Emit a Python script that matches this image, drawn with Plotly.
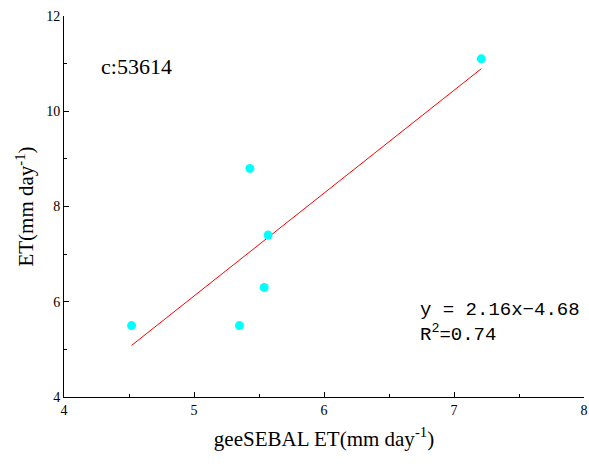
import plotly.graph_objects as go

gee_et = [4.52, 5.35, 5.43, 5.54, 5.57, 7.21]
obs_et = [5.5, 5.5, 8.8, 6.3, 7.4, 11.1]
slope = 2.16
intercept = -4.68
r2 = 0.74
station = "c:53614"

x_fit = [min(gee_et), max(gee_et)]
y_fit = [slope * v + intercept for v in x_fit]

fig = go.Figure()
fig.add_trace(go.Scatter(x=x_fit, y=y_fit, mode="lines",
                         line=dict(color="red", width=1), showlegend=False))
fig.add_trace(go.Scatter(x=gee_et, y=obs_et, mode="markers",
                         marker=dict(color="#00FFFF", size=9), showlegend=False))

font = "Liberation Serif, Times New Roman, serif"
fig.update_layout(
    width=589, height=468,
    margin=dict(l=64, r=5, t=16, b=71),
    paper_bgcolor="white", plot_bgcolor="white",
    font=dict(family=font, color="black"),
    xaxis=dict(range=[4, 8], dtick=1, tick0=4, showgrid=False, zeroline=False,
               showline=True, linecolor="black", linewidth=1, automargin=False,
               ticks="inside", ticklen=5, tickcolor="black",
               minor=dict(ticks="inside", dtick=0.5, ticklen=3, tickcolor="black"),
               tickfont=dict(size=14),
               title=dict(text="geeSEBAL ET(mm day<sup>-1</sup>)", font=dict(size=21), standoff=14)),
    yaxis=dict(range=[4, 12], dtick=2, tick0=4, showgrid=False, zeroline=False,
               showline=True, linecolor="black", linewidth=1, automargin=False,
               ticks="inside", ticklen=5, tickcolor="black",
               minor=dict(ticks="inside", dtick=1, ticklen=3, tickcolor="black"),
               tickfont=dict(size=14),
               title=dict(text="ET(mm day<sup>-1</sup>)", font=dict(size=21), standoff=6)),
)
fig.add_annotation(x=0.068, y=0.868, xref="paper", yref="paper", text=station,
                   showarrow=False, xanchor="left", yanchor="middle",
                   font=dict(size=22, family=font))
fig.add_annotation(x=0.68, y=0.195, xref="paper", yref="paper",
                   text=f"y = {slope:.2f}x\u2212{abs(intercept):.2f}<br>R<sup>2</sup>={r2:.2f}",
                   showarrow=False, xanchor="left", yanchor="middle", align="left",
                   font=dict(size=19, family="Liberation Mono, Courier New, monospace"))
fig.write_html("out.html")
